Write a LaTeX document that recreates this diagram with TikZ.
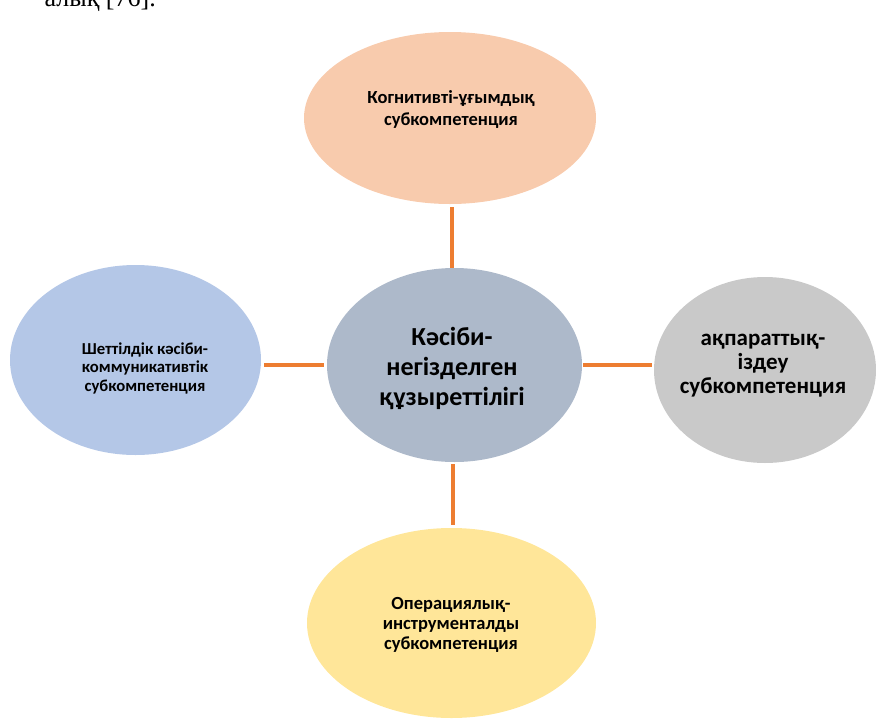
\documentclass[tikz,border=0pt]{standalone}
\usepackage{fontspec}
\setmainfont{Carlito}
\newfontfamily\serifpart{Liberation Serif}
\usetikzlibrary{shapes.geometric}
\definecolor{cpeach}{HTML}{F8CBAD}
\definecolor{cblue}{HTML}{B4C7E7}
\definecolor{cslate}{HTML}{ADB9CA}
\definecolor{cgray}{HTML}{C9C9C9}
\definecolor{cyellow}{HTML}{FFE699}
\definecolor{corange}{HTML}{ED7D31}
\tikzset{
  oval/.style={ellipse, draw=none, inner sep=0pt},
  lbl/.style={align=center, font=\bfseries, text=black, inner sep=0pt},
  conn/.style={draw=corange, line width=3.2pt},
}
\begin{document}
\begin{tikzpicture}[x=1pt,y=-1pt]
\useasboundingbox (0,0) rectangle (876,718);
\begin{scope}
\clip (0,0) rectangle (876,718);
% ovals
\node[oval, fill=cpeach, minimum width=292pt, minimum height=172pt] (top) at (450,118) {};
\node[oval, fill=cslate, minimum width=255pt, minimum height=194pt] (ctr) at (454.5,365) {};
\node[oval, fill=cblue, minimum width=251pt, minimum height=190pt] (lft) at (135.5,360) {};
\node[oval, fill=cgray, minimum width=222pt, minimum height=186pt] (rgt) at (765,370) {};
\node[oval, fill=cyellow, minimum width=289pt, minimum height=190pt] (bot) at (451.5,623) {};
% fragment of the page text above the figure
\node[anchor=base east, inner sep=0pt, font=\serifpart\fontsize{26}{30}\selectfont] (frag) at (156,6) {алық [76].};
\end{scope}
% labels
\node[lbl, font=\bfseries\fontsize{18.5}{22}\selectfont] (toplbl) at (451,109) {Когнитивті-ұғымдық\\субкомпетенция};
\node[lbl, font=\bfseries\fontsize{26}{30}\selectfont] (ctrlbl) at (452,368) {Кәсіби-\\негізделген\\құзыреттілігі};
\node[lbl, font=\bfseries\fontsize{16.7}{18.5}\selectfont] (lftlbl) at (145,368) {Шеттілдік кәсіби-\\коммуникативтік\\субкомпетенция};
\node[lbl, font=\bfseries\fontsize{23}{24}\selectfont] (rgtlbl) at (763,366) {ақпараттық-\\іздеу\\субкомпетенция};
\node[lbl, font=\bfseries\fontsize{18.5}{20}\selectfont] (botlbl) at (451,625) {Операциялық-\\инструменталды\\субкомпетенция};
% connectors
\draw[conn] ([xshift=2pt,yshift=-3pt]top.south) -- ([xshift=2pt]top.south |- ctr.north);
\draw[conn] ([xshift=3pt]lft.east |- ctr.west) -- ([xshift=-3pt]ctr.west);
\draw[conn] ([xshift=1pt]ctr.east) -- ([xshift=-2pt]rgt.west |- ctr.east);
\draw[conn] ([xshift=-1.5pt,yshift=-2pt]ctr.south) -- ([xshift=-1.5pt,yshift=3pt]ctr.south |- bot.north);
\end{tikzpicture}
\end{document}
